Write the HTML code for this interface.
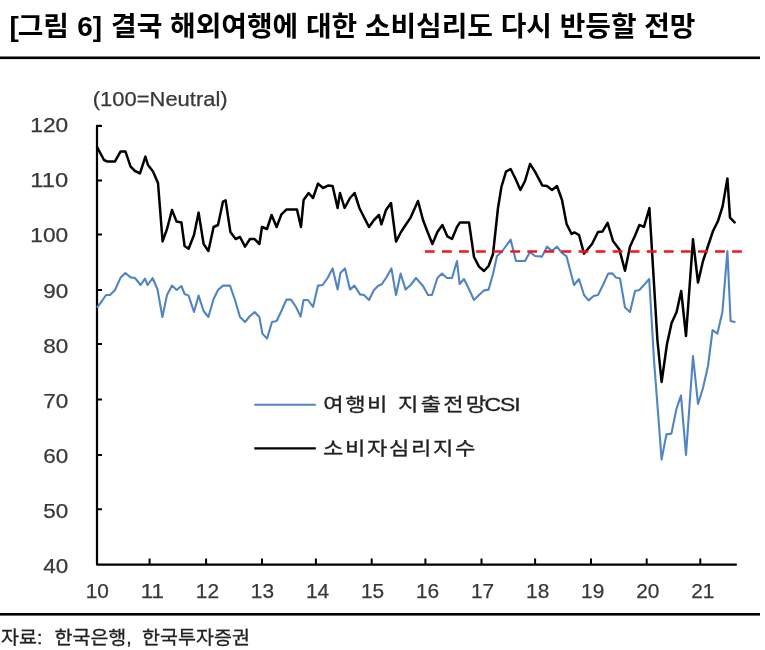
<!DOCTYPE html>
<html lang="ko">
<head>
<meta charset="utf-8">
<title>그림 6</title>
<style>
html,body{margin:0;padding:0;background:#fff;}
body{width:765px;height:650px;overflow:hidden;}
svg{display:block;}
.ax{font-family:"Liberation Sans","Noto Sans CJK KR",sans-serif;fill:#383838;stroke:#383838;stroke-width:0.25px;}
.kr{font-family:"Liberation Sans","Noto Sans CJK KR",sans-serif;fill:#222;stroke:#222;stroke-width:0.3px;white-space:pre;}
</style>
</head>
<body>
<svg width="765" height="650" viewBox="0 0 765 650">
<rect width="765" height="650" fill="#fff"/>
<rect x="0" y="56.5" width="760" height="2.6" fill="#000"/>
<rect x="0" y="613" width="760" height="2.6" fill="#000"/>
<text id="title" x="9.5" y="35.8" dx="0 -1.0 0 0 0.4 0 0 1.4" font-family="'Liberation Sans','Noto Sans CJK KR',sans-serif" font-weight="700" font-size="27.2" fill="#000" textLength="686" lengthAdjust="spacingAndGlyphs">[그림 6] 결국 해외여행에 대한 소비심리도 다시 반등할 전망</text>
<text id="neutral" x="92.8" y="105.6" class="ax" font-size="20" textLength="134.8" lengthAdjust="spacingAndGlyphs">(100=Neutral)</text>
<path d="M101.5,125.9 H97 V564.6 H736.8" fill="none" stroke="#000" stroke-width="2.2" stroke-linejoin="round"/>
<path d="M97,125.9h5M97,180.5h5M97,234.5h5M97,290h5M97,344h5M97,399.6h5M97,455.1h5M97,509.2h5M149.6,564.6v-6.2M206.1,564.6v-6.2M262.0,564.6v-6.2M315.9,564.6v-6.2M371.7,564.6v-6.2M425.4,564.6v-6.2M481.5,564.6v-6.2M535.1,564.6v-6.2M591.0,564.6v-6.2M646.7,564.6v-6.2M700.3,564.6v-6.2" fill="none" stroke="#000" stroke-width="2"/>
<text class="ax yl" x="30.3" y="132.2" font-size="20.5" textLength="37.9" lengthAdjust="spacingAndGlyphs">120</text>
<text class="ax yl" x="30.3" y="187.3" font-size="20.5" textLength="37.9" lengthAdjust="spacingAndGlyphs">110</text>
<text class="ax yl" x="30.3" y="242.4" font-size="20.5" textLength="37.9" lengthAdjust="spacingAndGlyphs">100</text>
<text class="ax yl" x="43.2" y="297.5" font-size="20.5" textLength="25.0" lengthAdjust="spacingAndGlyphs">90</text>
<text class="ax yl" x="43.2" y="352.6" font-size="20.5" textLength="25.0" lengthAdjust="spacingAndGlyphs">80</text>
<text class="ax yl" x="43.2" y="407.7" font-size="20.5" textLength="25.0" lengthAdjust="spacingAndGlyphs">70</text>
<text class="ax yl" x="43.2" y="462.8" font-size="20.5" textLength="25.0" lengthAdjust="spacingAndGlyphs">60</text>
<text class="ax yl" x="43.2" y="517.9" font-size="20.5" textLength="25.0" lengthAdjust="spacingAndGlyphs">50</text>
<text class="ax yl" x="43.2" y="573.0" font-size="20.5" textLength="25.0" lengthAdjust="spacingAndGlyphs">40</text>
<text class="ax xl" x="85.7" y="597.8" font-size="20.8" textLength="23.2" lengthAdjust="spacingAndGlyphs">10</text>
<text class="ax xl" x="140.8" y="597.8" font-size="20.8" textLength="23.2" lengthAdjust="spacingAndGlyphs">11</text>
<text class="ax xl" x="195.8" y="597.8" font-size="20.8" textLength="23.2" lengthAdjust="spacingAndGlyphs">12</text>
<text class="ax xl" x="250.8" y="597.8" font-size="20.8" textLength="23.2" lengthAdjust="spacingAndGlyphs">13</text>
<text class="ax xl" x="305.9" y="597.8" font-size="20.8" textLength="23.2" lengthAdjust="spacingAndGlyphs">14</text>
<text class="ax xl" x="360.9" y="597.8" font-size="20.8" textLength="23.2" lengthAdjust="spacingAndGlyphs">15</text>
<text class="ax xl" x="416.0" y="597.8" font-size="20.8" textLength="23.2" lengthAdjust="spacingAndGlyphs">16</text>
<text class="ax xl" x="471.0" y="597.8" font-size="20.8" textLength="23.2" lengthAdjust="spacingAndGlyphs">17</text>
<text class="ax xl" x="526.1" y="597.8" font-size="20.8" textLength="23.2" lengthAdjust="spacingAndGlyphs">18</text>
<text class="ax xl" x="581.1" y="597.8" font-size="20.8" textLength="23.2" lengthAdjust="spacingAndGlyphs">19</text>
<text class="ax xl" x="636.2" y="597.8" font-size="20.8" textLength="23.2" lengthAdjust="spacingAndGlyphs">20</text>
<text class="ax xl" x="691.2" y="597.8" font-size="20.8" textLength="23.2" lengthAdjust="spacingAndGlyphs">21</text>
<polyline points="97.4,307 102,301 106,295 110,295 115,290 120.6,277.6 125.4,273 130.6,277.4 135,278 140.6,285 145,278.6 147.6,285 152.6,278 157.4,289 162.4,317 167,295 172,285.6 176.6,290 181.4,286 184.6,294 188.6,295.6 194,312 198.6,295.6 203.6,311 208.4,317 213.6,299 218,290 223,285.6 230,285.6 235,300 240,317 245,322 250,316 254.6,312 259.4,317 262.4,333.6 267,338.6 272,322 276.6,321 281.4,311 286.4,299.6 291,299.6 296,307 300.6,316.6 303.6,300 308,300 313,307 318,285.6 322.6,285 327.6,278 332.6,268.4 337.6,289.6 340.4,273 345,268.4 350,289.6 354.4,285.6 360,294.4 364,295 369,300 374,290 378,286 382,284 386.6,277 391.4,268.4 396,295 400.6,273.6 405.6,289.6 410.6,285 416,278 423,286 428,295 432,295 437.4,278 442,273.6 447,278 452,278 457,261 459.6,284 464,279 469.4,290 474,300 479,295 484,290.4 488.6,289.6 493,274 497,256 501.6,252 506,246 510.6,239.6 516,261 525,261 530,252 535,256 542,256.6 547,246.6 552,251 557,246.6 562,253 566.6,256.4 574,285 579,279 584,295 588.6,300.4 593.6,296 598,295 603,285 608.2,273.6 612.4,273.4 616,277.6 620,278.5 625,307.5 630,312 635,291 639.4,290 644,285 649.2,279 654,360 661.6,459.6 666.4,434.4 671.4,433.6 676.4,409 681,395.6 686,455 693,356 698,404 703,388 708,366 712.6,330 717.4,333.6 722.4,312 727.4,251 730.6,321 734.6,322" fill="none" stroke="#5185c2" stroke-width="2.1" stroke-linejoin="round" stroke-linecap="round"/>
<polyline points="97.1,147.2 104,160 107,161.4 115,161.4 120.6,151.4 125.4,151.4 130.6,166.6 135,171 140,173.4 145.4,156.6 148,165 153,171.4 158,183 162.6,241.4 167,229 172,210 176.6,221.6 181.4,222.4 184.6,246 188.6,248.8 194,235 198.6,212.6 203.6,244 208.4,251 213.6,227 218,225 223,201.6 225.6,200.4 230.4,232 235.6,239 240,237 245,246.6 250,239 254.4,239 259.4,244 262,227 267,229 271.6,215 276.6,227 281.4,214.4 286.4,209.6 297,209.6 301,227 303.6,200 308.6,193 313,198 318,183.6 323,188 328,185.6 332.6,186 337.6,208 340,193 344.6,208 350,198 354.6,193 359.4,208 364.4,218 369,227 374,220 379,215 381.4,224.4 386,210 391,203 396,241.6 401,232 405.6,225 410.6,217.6 418,201 423,220 427.6,232 432.4,244 437.4,232 442.4,225 447.4,236.4 452,239 457,227 460,222.4 469,222.4 474,257 479,266.6 484,271 488.6,266 493,254 498,208 501.4,187 506,171.6 510.6,169 515.6,179 520.4,190 525,181 530,164 535,171.6 542.4,185.6 547,186 552,190 557,186 562,200 566.6,224 571.6,234 574.4,232.4 579,235 584,253.6 592,244 598,232 602.4,231.6 607.6,222.8 613,241 619.4,249.5 625,270.8 630,246.5 635,235.8 639.4,225 644,226.8 649.4,208 657.4,340 661.6,382 667,344 671.6,323 676.6,312 681.2,291 686,336 693,239.3 698,282.5 703,261 708,246 713,231 718,221 722.6,206.4 727.4,178.4 730,217.6 734.6,222.4" fill="none" stroke="#000" stroke-width="2.5" stroke-linejoin="round" stroke-linecap="round"/>
<path d="M424.9,251.6 H741.9" fill="none" stroke="#f2141c" stroke-width="2.5" stroke-dasharray="9.8 7.27"/>
<path d="M254.3,404.7 H315.8" stroke="#5185c2" stroke-width="2.1" fill="none"/>
<path d="M254.3,448.4 H315.8" stroke="#000" stroke-width="2.4" fill="none"/>
<text id="lg1" class="kr" transform="translate(0,411.1) scale(1.21,1)" font-size="18.3"><tspan x="267.19" letter-spacing="1.26">여행비 </tspan><tspan x="329.01" letter-spacing="1.84">지출전망</tspan><tspan x="400.50" font-size="19" letter-spacing="-0.9">CSI</tspan></text>
<text id="lg2" class="kr" transform="translate(0,454.8) scale(1.21,1)" font-size="18.3" x="267.02" letter-spacing="1.35">소비자심리지수</text>
<text id="src" class="kr" transform="translate(0,643.6) scale(1.086,1)" font-size="18"><tspan x="0.92">자료: </tspan><tspan x="50.18">한국은행, </tspan><tspan x="130.85">한국투자증권</tspan></text>
</svg>
</body>
</html>
